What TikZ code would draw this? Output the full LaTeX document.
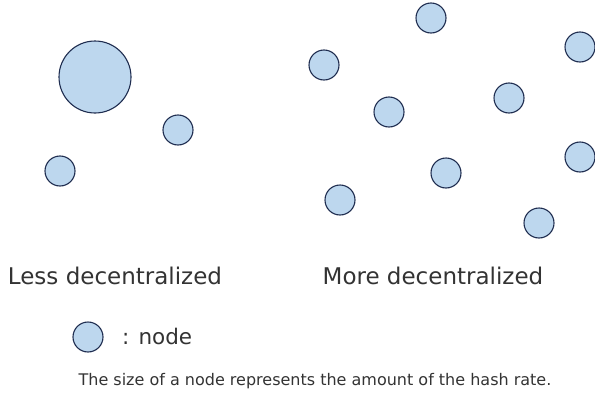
\documentclass[tikz,border=0pt]{standalone}
\usepackage{fontspec}
\setmainfont{DejaVu Sans}
\definecolor{nodefill}{HTML}{BDD7EE}
\definecolor{nodeline}{HTML}{1F2D50}
\definecolor{txt}{HTML}{333333}
\tikzset{
  peer/.style={circle,draw=nodeline,fill=nodefill,line width=1.1pt,inner sep=0pt,minimum size=30pt},
  bigpeer/.style={peer,minimum size=72pt},
  label/.style={text=txt,inner sep=0pt}
}
\begin{document}
\begin{tikzpicture}[x=1pt,y=-1pt]
			\useasboundingbox (0,0) rectangle (595,399);
			\clip (0,0) rectangle (595,399);
			% less decentralized
			\node[bigpeer] (big) at (95,77) {};
			\node[peer] (l1) at (178,130) {};
			\node[peer] (l2) at (60,171) {};
			% more decentralized
			\foreach \name/\px/\py in {m1/324/65,m2/431/18,m3/580/47,m4/389/112,m5/509/98,m6/446/173,m7/340/200,m8/580/157,m9/539/223}
				{\node[peer] (\name) at (\px,\py) {};}
			\node[label,font=\fontsize{23}{27}\selectfont] (less) at (115,276) {Less decentralized};
			\node[label,font=\fontsize{23}{27}\selectfont] (more) at (433,276) {More decentralized};
			% legend
			\node[peer] (key) at (88,337) {};
			\node[label,font=\fontsize{21.5}{26}\selectfont,anchor=west] (keytext) at (122,336) {: node};
			\node[label,font=\fontsize{16}{19}\selectfont] (note) at (315,381) {The size of a node represents the amount of the hash rate.};
		\end{tikzpicture}
\end{document}
